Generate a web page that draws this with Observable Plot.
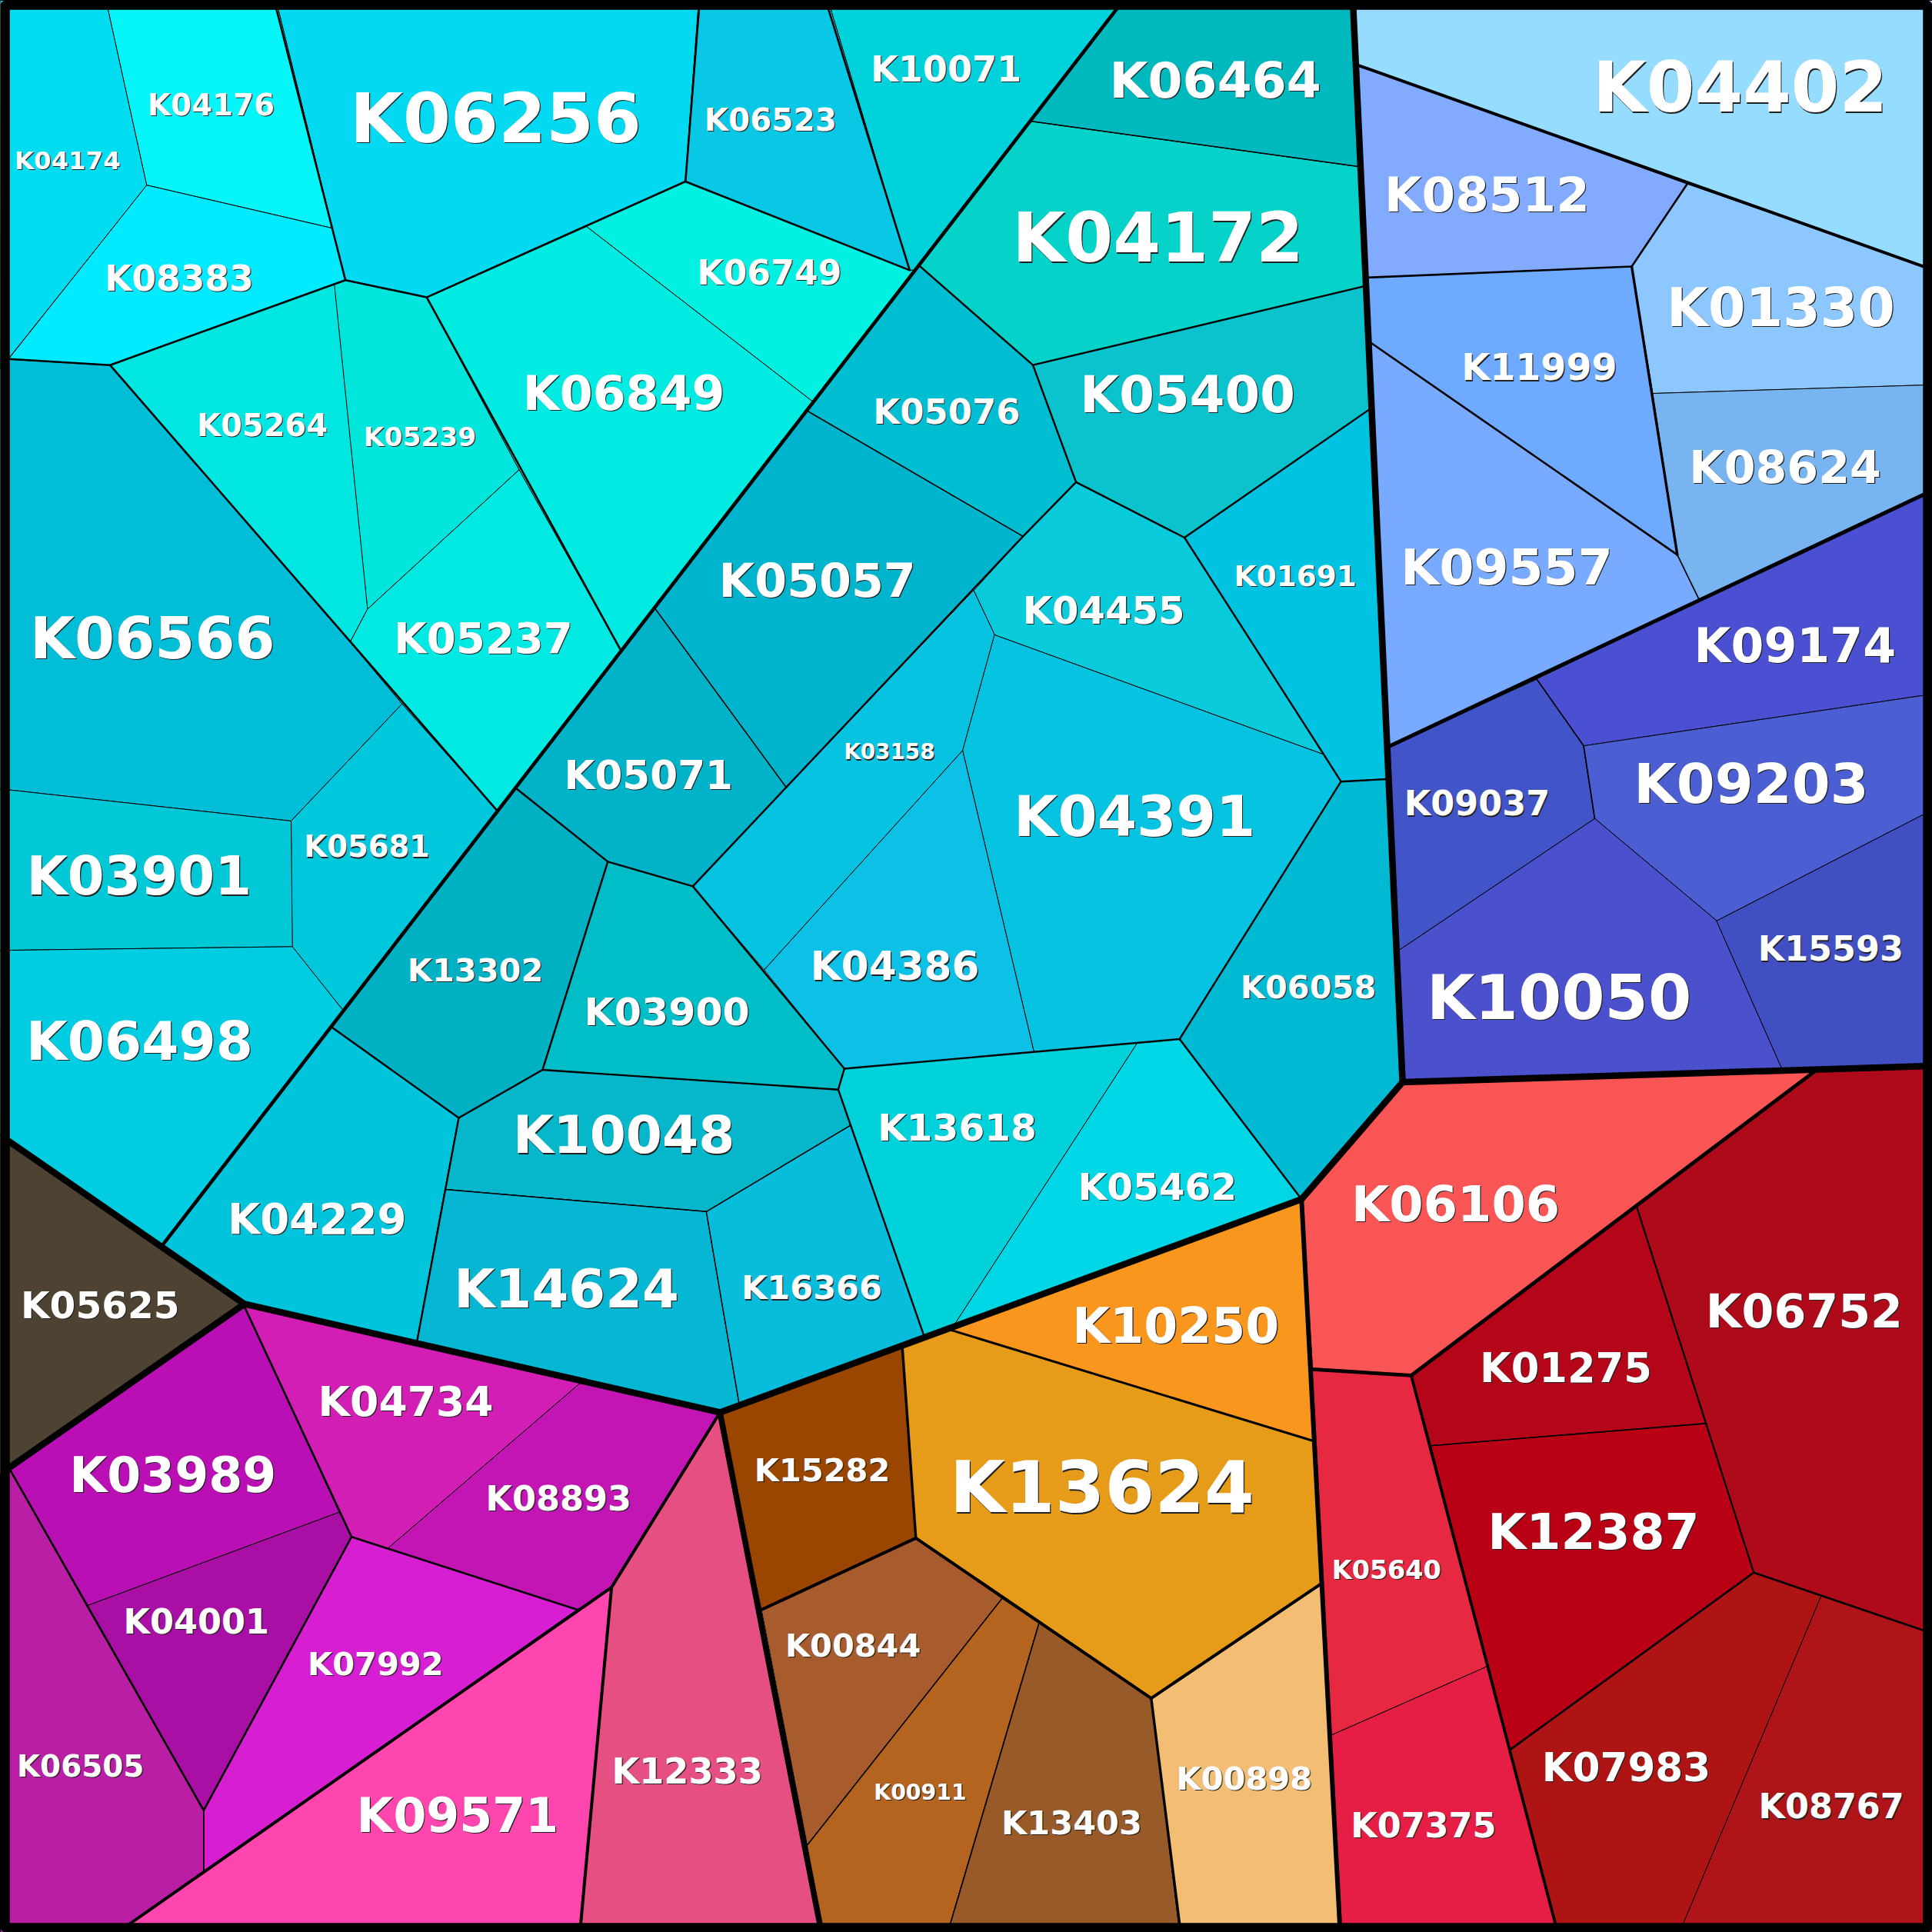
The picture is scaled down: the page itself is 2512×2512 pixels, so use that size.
<!DOCTYPE html>
<html><head><meta charset="utf-8">
<script src="https://cdn.jsdelivr.net/npm/d3@7"></script>
<script src="https://cdn.jsdelivr.net/npm/@observablehq/plot@0.6"></script>
<style>html,body{margin:0;padding:0;background:#fff}svg{display:block}</style>
</head><body><div id="chart"></div>
<script>
const cellNames=["K04174","K04176","K08383","K06256","K06523","K10071","K06749","K06849","K05239","K05264","K05237","K06566","K05681","K03901","K06498","K05625","K04229","K13302","K03900","K10048","K14624","K16366","K05071","K05057","K05076","K04172","K06464","K05400","K01691","K04455","K03158","K04391","K04386","K06058","K13618","K05462","K04402","K08512","K01330","K08624","K11999","K09557","K09174","K09037","K09203","K10050","K15593","K06106","K06752","K01275","K12387","K05640","K07375","K07983","K08767","K10250","K13624","K00898","K15282","K00844","K00911","K13403","K04734","K08893","K03989","K04001","K07992","K06505","K09571","K12333"];
const cellColors=["#00dcf0","#05f5f8","#00ebff","#03d9f0","#08c8e6","#00d2dc","#00f0e1","#00ebe1","#00e6dc","#00e6e1","#00e9e2","#00bed7","#00c8dc","#00c8d7","#00cde1","#4e4233","#00c3dc","#00b0c3","#00bec8","#06b7cc","#05b7d2","#08bcdc","#00b3c8","#00b4cd","#00bed2","#05d2c8","#00b9bf","#0ac3cd","#00c3e1","#0acbdc","#05c3e1","#05c3e1","#0cc0e6","#00b9d2","#00d2dc","#00d7e6","#96dcff","#82aaff","#8cc8ff","#78b4f0","#6eaaff","#78aaff","#4b50d2","#4155c8","#4b5fd2","#4b50cd","#414fc3","#fa5555","#af0a19","#b40519","#b90014","#e62841","#e61e46","#af1414","#af1419","#f9961e","#e69b19","#f3be73","#9b4600","#a85c2d","#b4641e","#985a28","#d21eb4","#c314b4","#b90fb4","#aa0fa5","#d71ed2","#b91ea5","#ff46af","#e64f82"];
const cellPolygons=[
[0,0,86,0,119,150,0,299],
[86,0,224,0,270,185,119,150],
[119,150,270,185,280,227,89,296,7,291],
[224,0,567,0,556,147,475,183,346,241,280,227],
[567,0,672,0,738,219,556,147],
[672,0,911.4,0,742.4,219,738,219],
[556,147,738,219,742.4,219,659.8,326,475,183],
[475,183,659.8,326,503.8,528,421,381,346,241],
[271,230,280,227,346,241,421,381,298,494],
[89,296,271,230,298,494,284,521],
[298,494,421,381,503.8,528,403.5,658,326,571,284,521],
[0,291,89,296,284,521,326,571,236,666,0,640],
[236,666,326,571,403.5,658,278.4,820,237,768],
[0,640,236,666,237,768,0,771],
[0,771,237,768,278.4,820,131,1011,0,921],
[0,921,198,1058,7,1191,0,1196],
[268.4,833,372,907,361,965,338,1089,198,1058,131,1011],
[418,639,493,699,440,868,372,907,268.4,833],
[493,699,562,719,685,867,680,884,440,868],
[372,907,440,868,680,884,690,913,573,983,361,965],
[361,965,573,983,600,1141,584,1146,338,1089],
[573,983,690,913,750,1085,600,1141],
[530.9,493,638,639,562,719,493,699,418,639],
[654.6,333,830,435,638,639,530.9,493],
[745.4,215,838,296,873,391,830,435,654.6,333],
[835.8,98,1103,135,1107,232,838,296,745.4,215],
[911.4,0,1098,0,1103,135,835.8,98],
[838,296,1107,232,1111,332,961,436,873,391],
[961,436,1111,332,1125,632,1088,634,1074,612],
[873,391,961,436,1074,612,807,515,790,479,830,435],
[790,479,807,515,781,609,620,787,562,719],
[807,515,1074,612,1088,634,957,843,839,854,781,609],
[781,609,839,854,685,867,620,787],
[1088,634,1125,632,1138,878,1056,973,957,843],
[685,867,923,846,773,1077,750,1085,690,913,680,884],
[923,846,957,843,1056,973,773,1077],
[1098,0,1568,0,1568,218,1369,149,1100,52],
[1100,52,1369,149,1324,216,1109,225],
[1369,149,1568,218,1568,312,1341,319,1324,216],
[1341,319,1568,312,1568,398,1379,487,1361,450],
[1109,225,1324,216,1341,319,1361,450,1111,277],
[1111,277,1361,450,1379,487,1126,606],
[1379,487,1568,398,1568,563,1285,605,1247,551],
[1126,606,1247,551,1285,605,1294,664,1135,771],
[1285,605,1568,563,1568,657,1393,747,1294,664],
[1135,771,1294,664,1393,747,1446,867,1138,878],
[1393,747,1568,657,1568,865,1446,867],
[1138,878,1474,868,1328,979,1145,1116,1065,1111,1056,973],
[1474,868,1568,865,1568,1325,1478,1295,1423,1276,1384,1155,1328,979],
[1328,979,1384,1155,1161,1173,1145,1116],
[1161,1173,1384,1155,1423,1276,1225,1420,1207,1352],
[1065,1111,1145,1116,1161,1173,1207,1352,1080,1408],
[1080,1408,1207,1352,1225,1420,1264,1568,1087,1568],
[1423,1276,1478,1295,1363,1568,1264,1568,1225,1420],
[1478,1295,1568,1325,1568,1568,1363,1568],
[771,1079,1056,973,1065,1169],
[732,1093,771,1079,1065,1169,1072,1285,934,1378,843,1317,813,1297,743,1248],
[934,1378,1072,1285,1087,1568,957,1568],
[584,1146,732,1093,743,1248,618,1306],
[618,1306,743,1248,813,1297,655,1497],
[655,1497,813,1297,843,1317,769,1568,665,1568],
[843,1317,934,1378,957,1568,769,1568],
[198,1060,471,1122,314,1257,285,1247,275,1227],
[471,1122,584,1146,496,1288,468,1306,314,1257],
[198,1060,275,1227,70,1303,7,1191],
[70,1303,275,1227,285,1247,165,1469],
[285,1247,468,1306,165,1519,165,1469],
[7,1191,70,1303,165,1469,165,1519,95,1568,0,1568,0,1196],
[496,1288,471,1568,95,1568],
[584,1146,665,1568,471,1568,496,1288]
];
const labelX=[54.5,171,145,402,625,767.5,624,506,340.5,212.5,392,123.5,297.5,112.5,113,81,257,385.5,541,506,459.5,658.5,526,663,768,939.5,986,963.5,1051,895.5,721.5,920.5,726,1061.5,776.5,939,1412,1206.5,1445,1448.5,1249,1222.5,1456.5,1198.5,1421,1265,1485.5,1181,1464,1270.5,1293,1125,1155,1319.5,1486,954,894,1009.5,667,692,746.5,869.5,329,453,140,159,304.5,65,371,557.5];
const labelY=[130,85,226,96,97,56,221,319,354,345,518,518,687,711,845,1059,989,787,821,921,1046,1045,629,471,334,193,65,320,467,495,610,662,784,801,915,963,71,158,249,379,298,460,524,652,636,809,770,977,1064,1110,1243,1274,1481,1434,1466,1076,1207,1443,1193,1335,1454,1479,1137,1216,1197,1316,1350,1433,1473,1437];
const labelWeights=[32,38.4,45,88,40,45.6,43.7,61,34,39.5,54,74,38,68,68.5,48,54,41,50,67,68,42.5,51,59.5,44.4,88,64,65,37,49,27.5,73,51,41,48,48,89,62,69,58,47,64,61,44,71,80,44,63,59.5,52,64,33,44,51,44,62.5,92,41,41,41,28,42.5,53,44,62.5,44,41,38.4,61,45.6];
const frameCorners=[[3.9,3.9],[1564.1,3.9],[1564.1,1564.1],[3.9,1564.1]];
// [weight, x0,y0, x1,y1, ...]
const borders=[
[1.5,654.6,333,830,435],[1.5,835.8,98,1103,135],[1.5,530.9,493,638,639],[1.6,361,965,573,983],[1.5,573,983,690,913],[1.2,573,983,600,1141],
[2.4,418,639,493,699,562,719,830,435,873,391,961,436,1111,332],[2.4,493,699,440,868,680,884,685,867,562,719],[2.4,961,436,1074,612,1088,634,957,843,1056,973],[2.4,1088,634,1125,632],[2.4,957,843,685,867],[2.4,440,868,372,907,268.4,833],[2.4,372,907,338,1089],[2.4,680,884,750,1085],[2.4,873,391,838,296,1107,232],[2.4,838,296,745.4,215],
[2.6,7,291,89,296,280,227,346,241,556,147,738,219,672,7],[2.6,89,296,403.5,658],[2.6,224,7,280,227],[2.6,556,147,567,7],[2.6,346,241,503.8,528],
[4.6,906,7,131,1011],
[2.6,198,1060,285,1247,468,1306],[2.6,7,1191,165,1469,285,1247],[1.6,165,1469,165,1519],[4,105,1561,496,1288,584,1146],[4,496,1288,471,1561],
[3,771,1079,1065,1169],[3.4,732,1093,743,1248],[4,618,1306,743,1248,934,1378,1072,1285],[3.4,934,1378,957,1561],[1.6,843,1317,771,1561],[1.6,813,1297,655,1497],
[4.8,1065,1111,1145,1116,1474,868],[3.8,1145,1116,1262,1561],[2.6,1225,1420,1423,1276,1561,1323],[2.2,1328,979,1423,1276],[1.6,1161,1173,1384,1155],
[4,1100,52,1561,216],[5,1126,606,1561,401],[2.6,1369,149,1324,216,1109,225],[3.4,1324,216,1361,450],[2.6,1111,277,1361,450],[1.6,1361,450,1379,487],[1.6,1247,551,1285,605,1294,664],
[8.5,1098,7,1138,878,1561,865],[8.5,1138,878,1056,973,584,1146,198,1058,7,926],[8.5,198,1058,7,1191],[7.5,584,1146,665,1561],[6,1056,973,1087,1561]
];
const cells=cellPolygons.flatMap((p,i)=>d3.range(0,p.length,2).map(k=>({cell:cellNames[i],x:p[k],y:p[k+1]})));
const edges=borders.flatMap((b,i)=>d3.range(1,b.length,2).map(k=>({id:i,w:b[0],x:b[k],y:b[k+1]})));
const labels=cellNames.map((name,i)=>({name,x:labelX[i],y:labelY[i]+labelWeights[i]*0.016,size:labelWeights[i]*1.012}));
const textBase={x:"x",y:"y",text:"name",fontSize:"size",fontFamily:"DejaVu Sans",fontWeight:"bold",textAnchor:"middle",lineAnchor:"middle"};
const chart=Plot.plot({
  width:2512,height:2512,marginTop:0,marginRight:0,marginBottom:0,marginLeft:0,
  x:{domain:[0,1568],range:[0,2512],axis:null},
  y:{domain:[0,1568],range:[0,2512],axis:null},
  color:{type:"categorical",domain:cellNames,range:cellColors},
  style:{background:"#fff"},
  marks:[
    Plot.line(cells,{x:"x",y:"y",z:"cell",fill:"cell",stroke:"#000",strokeWidth:1,curve:"linear-closed"}),
    Plot.line(edges,{x:"x",y:"y",z:"id",stroke:"#000",strokeWidth:"w",curve:"linear"}),
    Plot.line(frameCorners,{x:d=>d[0],y:d=>d[1],stroke:"#000",strokeWidth:12,curve:"linear-closed"}),
    Plot.text(labels,{...textBase,fill:"#222",dx:1.2,dy:1.2}),
    Plot.text(labels,{...textBase,fill:"#fff"})
  ]
});
document.getElementById("chart").appendChild(chart);
</script></body></html>
